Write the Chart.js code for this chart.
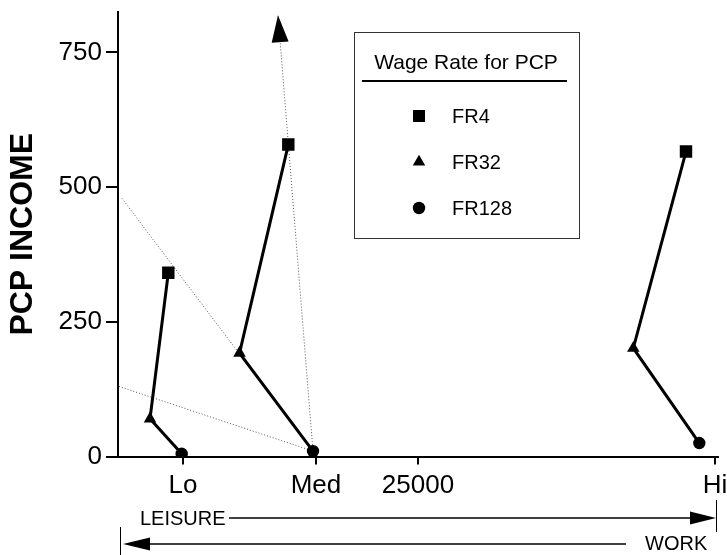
<!DOCTYPE html>
<html>
<head>
<meta charset="utf-8">
<script src="https://cdn.jsdelivr.net/npm/chart.js@4/dist/chart.umd.min.js"></script>
<style>
  html, body { margin: 0; padding: 0; background: #fff; }
</style>
</head>
<body>
<canvas id="c" width="727" height="555"></canvas>
<script>
// Wage levels (x) and PCP income (y) for each wage rate, ordered Lo, Med, Hi
const groups = ['Lo', 'Med', 'Hi'];
const wageRates = ['FR4', 'FR32', 'FR128'];
const wageRateStyles = ['rect', 'triangle', 'circle'];

const fr4Wage = [4192, 14192, 47333];
const fr4Income = [341, 579, 566];
const fr32Wage = [2667, 10125, 42942];
const fr32Income = [70, 192, 201];
const fr128Wage = [5308, 16250, 48442];
const fr128Income = [5, 10, 25];

// Budget lines (dotted) running into the medium-wage point
const budgetLineHigh = [{ x: 333, y: 479 }, { x: 16250, y: 10 }];
const budgetLineLow = [{ x: 83, y: 130 }, { x: 16250, y: 10 }];
const budgetLineUp = [{ x: 16250, y: 10 }, { x: 13333, y: 819 }];

// Axis ticks
const xTickValues = [5417, 16500, 25000, 49750];
const xTickLabels = ['Lo', 'Med', '25000', 'Hi'];
const yTickValues = [0, 250, 500, 750];

const FONT = '"Liberation Sans", Arial, sans-serif';

// One solid line per wage level, linking FR4 -> FR32 -> FR128
const groupDatasets = groups.map((g, i) => ({
  label: g,
  data: [
    { x: fr4Wage[i], y: fr4Income[i] },
    { x: fr32Wage[i], y: fr32Income[i] },
    { x: fr128Wage[i], y: fr128Income[i] }
  ],
  showLine: true,
  borderColor: '#000',
  borderWidth: 3,
  backgroundColor: '#000',
  pointBackgroundColor: '#000',
  pointBorderColor: '#000',
  pointBorderWidth: 0,
  pointStyle: wageRateStyles,
  pointRadius: [8.8, 7.2, 6.2],
  order: 1
}));

const dotted = (label, data) => ({
  label,
  data,
  showLine: true,
  borderColor: '#555',
  borderWidth: 1,
  borderDash: [1, 2],
  pointRadius: 0,
  order: 2
});

const datasets = [
  ...groupDatasets,
  dotted('budgetHigh', budgetLineHigh),
  dotted('budgetLow', budgetLineLow),
  dotted('budgetUp', budgetLineUp)
];

function drawMarker(ctx, style, x, y, r) {
  ctx.beginPath();
  if (style === 'rect') {
    const s = r * Math.SQRT1_2;
    ctx.rect(x - s, y - s, 2 * s, 2 * s);
  } else if (style === 'triangle') {
    const h = r * 1.5, w = r * Math.sqrt(3) / 2;
    ctx.moveTo(x, y - r);
    ctx.lineTo(x + w, y + r / 2);
    ctx.lineTo(x - w, y + r / 2);
    ctx.closePath();
  } else {
    ctx.arc(x, y, r, 0, Math.PI * 2);
  }
  ctx.fill();
}

// Arrowhead at the top of the upward budget line
const arrowPlugin = {
  id: 'budgetArrow',
  afterDatasetsDraw(chart) {
    const { ctx, scales: { x, y } } = chart;
    const a = budgetLineUp[0], b = budgetLineUp[1];
    const x0 = x.getPixelForValue(a.x), y0 = y.getPixelForValue(a.y);
    const x1 = x.getPixelForValue(b.x), y1 = y.getPixelForValue(b.y);
    const ang = Math.atan2(y1 - y0, x1 - x0);
    const len = 27, half = 8.5;
    const bxp = x1 - len * Math.cos(ang), byp = y1 - len * Math.sin(ang);
    const nx = -Math.sin(ang), ny = Math.cos(ang);
    ctx.save();
    ctx.fillStyle = '#000';
    ctx.beginPath();
    ctx.moveTo(x1, y1);
    ctx.lineTo(bxp + nx * half, byp + ny * half);
    ctx.lineTo(bxp - nx * half, byp - ny * half);
    ctx.closePath();
    ctx.fill();
    ctx.restore();
  }
};

// Legend box listing the wage rates
const legendPlugin = {
  id: 'wageLegend',
  afterDraw(chart) {
    const { ctx, chartArea: ca } = chart;
    const bx = ca.left + 236, by = ca.top + 20, bw = 225, bh = 206;
    ctx.save();
    ctx.fillStyle = '#fff';
    ctx.fillRect(bx, by, bw, bh);
    ctx.strokeStyle = '#333';
    ctx.lineWidth = 1;
    ctx.strokeRect(bx + 0.5, by + 0.5, bw, bh);

    ctx.fillStyle = '#000';
    ctx.font = '21px ' + FONT;
    ctx.textAlign = 'center';
    ctx.textBaseline = 'middle';
    ctx.fillText('Wage Rate for PCP', bx + 112, by + 31);

    ctx.strokeStyle = '#000';
    ctx.lineWidth = 2;
    ctx.beginPath();
    ctx.moveTo(bx + 8, by + 49);
    ctx.lineTo(bx + 213, by + 49);
    ctx.stroke();

    ctx.font = '20px ' + FONT;
    ctx.textAlign = 'left';
    const radii = [8.5, 7.2, 6.2];
    wageRates.forEach((name, i) => {
      const yy = by + 84 + i * 46;
      drawMarker(ctx, wageRateStyles[i], bx + 65, yy, radii[i]);
      ctx.fillText(name, bx + 98, yy + 1);
    });
    ctx.restore();
  }
};

// LEISURE / WORK direction arrows under the x axis
const directionPlugin = {
  id: 'directionArrows',
  afterDraw(chart) {
    const { ctx, chartArea: ca, scales: { x } } = chart;
    const hiPx = x.getPixelForValue(xTickValues[3]) + 1;
    const yTop = ca.bottom + 61.5;
    const yBot = ca.bottom + 87.5;
    ctx.save();
    ctx.fillStyle = '#000';
    ctx.strokeStyle = '#000';
    ctx.font = '20px ' + FONT;
    ctx.textBaseline = 'middle';

    // LEISURE row, pointing right
    ctx.textAlign = 'left';
    ctx.fillText('LEISURE', ca.left + 22, yTop + 1);
    ctx.lineWidth = 1.5;
    ctx.beginPath();
    ctx.moveTo(ca.left + 111, yTop);
    ctx.lineTo(hiPx - 20, yTop);
    ctx.stroke();
    ctx.beginPath();
    ctx.moveTo(hiPx, yTop);
    ctx.lineTo(hiPx - 26, yTop - 6.5);
    ctx.lineTo(hiPx - 26, yTop + 6.5);
    ctx.closePath();
    ctx.fill();
    ctx.lineWidth = 1;
    ctx.beginPath();
    ctx.moveTo(hiPx + 0.5, yTop - 18);
    ctx.lineTo(hiPx + 0.5, yTop + 14);
    ctx.stroke();

    // WORK row, pointing left
    const leftTip = ca.left + 5;
    ctx.lineWidth = 1;
    ctx.beginPath();
    ctx.moveTo(ca.left + 2.5, yBot - 17);
    ctx.lineTo(ca.left + 2.5, yBot + 12);
    ctx.stroke();
    ctx.beginPath();
    ctx.moveTo(leftTip, yBot);
    ctx.lineTo(leftTip + 27, yBot - 6.5);
    ctx.lineTo(leftTip + 27, yBot + 6.5);
    ctx.closePath();
    ctx.fill();
    ctx.lineWidth = 1.5;
    ctx.beginPath();
    ctx.moveTo(leftTip + 20, yBot);
    ctx.lineTo(ca.left + 508, yBot);
    ctx.stroke();
    ctx.fillText('WORK', ca.left + 527, yBot);
    ctx.restore();
  }
};

new Chart(document.getElementById('c'), {
  type: 'scatter',
  data: { datasets },
  options: {
    responsive: false,
    animation: false,
    events: [],
    layout: { padding: { top: 12, right: 9, left: 0, bottom: 0 } },
    plugins: { legend: { display: false }, tooltip: { enabled: false } },
    scales: {
      x: {
        type: 'linear',
        min: 0,
        max: 50000,
        afterBuildTicks: (s) => { s.ticks = xTickValues.map(v => ({ value: v })); },
        afterFit: (s) => { s.height = 98.5; s.paddingLeft = 0; s.paddingRight = 0; },
        ticks: {
          autoSkip: false,
          maxRotation: 0,
          padding: 6,
          color: '#000',
          font: { family: FONT, size: 26 },
          callback: (v, i) => xTickLabels[i]
        },
        grid: { drawOnChartArea: false, drawTicks: true, tickLength: 8, color: '#000', lineWidth: 2 },
        border: { color: '#000', width: 2 }
      },
      y: {
        type: 'linear',
        min: 0,
        max: 825,
        afterBuildTicks: (s) => { s.ticks = yTickValues.map(v => ({ value: v })); },
        afterFit: (s) => { s.width = 118; s.paddingTop = 0; s.paddingBottom = 0; },
        ticks: {
          padding: 4,
          color: '#000',
          font: { family: FONT, size: 26 }
        },
        grid: { drawOnChartArea: false, drawTicks: true, tickLength: 12, color: '#000', lineWidth: 2 },
        border: { color: '#000', width: 2 },
        title: {
          display: true,
          text: 'PCP INCOME',
          color: '#000',
          font: { family: FONT, size: 32, weight: 'bold' },
          padding: { top: 4, bottom: 0 }
        }
      }
    }
  },
  plugins: [arrowPlugin, legendPlugin, directionPlugin]
});
</script>
</body>
</html>
